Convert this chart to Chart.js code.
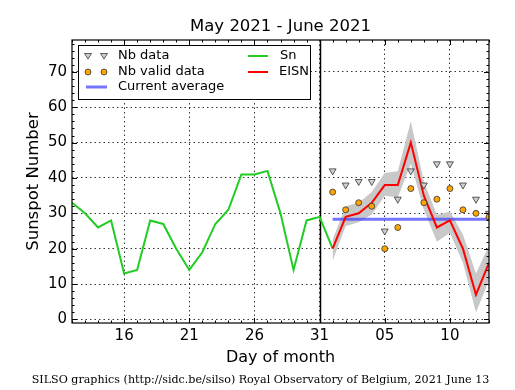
<!DOCTYPE html>
<html>
<head>
<meta charset="utf-8">
<script src="https://cdn.jsdelivr.net/npm/chart.js@4/dist/chart.umd.min.js"></script>
<style>
html, body { margin: 0; padding: 0; background: #fff; }
canvas { display: block; }
</style>
</head>
<body>
<canvas id="silso" width="515" height="390"></canvas>
<script>
// days are counted from May 1 (June 1 = 32)
var snDays = [12, 13, 14, 15, 16, 17, 18, 19, 20, 21, 22, 23, 24, 25, 26, 27, 28, 29, 30, 31, 32];
var snValues = [33, 30, 26, 28, 13, 14, 28, 27, 20, 14, 19, 27, 31, 41, 41, 42, 30, 14, 28, 29, 20];

var eisnDays = [32, 33, 34, 35, 36, 37, 38, 39, 40, 41, 42, 43, 44];
var eisnValues = [20, 29, 30, 33, 38, 38, 50, 35, 26, 28, 20, 7, 16];
var eisnLow = [16.5, 26.4, 27.5, 29.7, 35, 34.5, 44, 31, 22, 24.5, 16, 2, 11];
var eisnHigh = [22.6, 32, 33, 36, 41.4, 41.9, 56, 39, 29.5, 30.5, 24, 13, 21];
var nbData = [42, 38, 39, 39, 25, 34, 42, 38, 44, 44, 38, 34, 30];
var nbValid = [36, 31, 33, 32, 20, 26, 37, 33, 34, 37, 31, 30, 29];
var currentAverage = 28.3;

var xTicks = [16, 21, 26, 31, 36, 41];
var xTickLabels = ['16', '21', '26', '31', '05', '10'];
var yTicks = [0, 10, 20, 30, 40, 50, 60, 70];

function pts(days, vals) {
    return days.map(function(d, i) { return {x: d, y: vals[i]}; });
}

var decor = {
    id: 'decor',
    beforeDatasetsDraw: function(chart) {
        var c = chart.ctx, a = chart.chartArea, x = chart.scales.x;
        var px = Math.round(x.getPixelForValue(31)) + 0.5;
        c.save();
        c.strokeStyle = '#000';
        c.lineWidth = 1.5;
        c.beginPath();
        c.moveTo(px, a.top);
        c.lineTo(px, a.bottom);
        c.stroke();
        c.restore();
    },
    afterDraw: function(chart) {
        var c = chart.ctx, a = chart.chartArea, x = chart.scales.x, y = chart.scales.y;
        c.save();
        // frame
        c.strokeStyle = '#000';
        c.lineWidth = 1.2;
        c.strokeRect(a.left, a.top, a.right - a.left, a.bottom - a.top);
        // inward ticks on all four sides
        c.lineWidth = 1;
        c.beginPath();
        var d, len, p;
        for (d = 12; d <= 44; d++) {
            len = xTicks.indexOf(d) >= 0 ? 5 : 2.5;
            p = Math.round(x.getPixelForValue(d)) + 0.5;
            c.moveTo(p, a.bottom); c.lineTo(p, a.bottom - len);
            c.moveTo(p, a.top); c.lineTo(p, a.top + len);
        }
        for (d = 0; d <= 78; d += 2) {
            len = d % 10 === 0 ? 5 : 2.5;
            p = Math.round(y.getPixelForValue(d)) + 0.5;
            c.moveTo(a.left, p); c.lineTo(a.left + len, p);
            c.moveTo(a.right, p); c.lineTo(a.right - len, p);
        }
        c.stroke();

        // texts
        c.fillStyle = '#000';
        c.textAlign = 'center';
        c.textBaseline = 'alphabetic';
        c.font = '16.5px "DejaVu Sans"';
        c.fillText('May 2021 - June 2021', (a.left + a.right) / 2, 31);
        c.font = '16px "DejaVu Sans"';
        c.fillText('Day of month', (a.left + a.right) / 2, 362);
        c.save();
        c.translate(38, (a.top + a.bottom) / 2);
        c.rotate(-Math.PI / 2);
        c.font = '16.5px "DejaVu Sans"';
        c.fillText('Sunspot Number', 0, 0);
        c.restore();
        c.font = '11.1px "DejaVu Serif"';
        c.fillText('SILSO graphics (http://sidc.be/silso) Royal Observatory of Belgium, 2021 June 13', 260.5, 383);

        // legend
        c.fillStyle = '#fff';
        c.fillRect(78.5, 45.5, 232, 54);
        c.strokeStyle = '#000';
        c.lineWidth = 1;
        c.strokeRect(78.5, 45.5, 232, 54);
        var rows = [56, 72, 87];
        [88, 104].forEach(function(mx) {
            c.beginPath();
            c.moveTo(mx - 3.5, rows[0] - 2.5);
            c.lineTo(mx + 3.5, rows[0] - 2.5);
            c.lineTo(mx, rows[0] + 3);
            c.closePath();
            c.fillStyle = '#d0d0d0';
            c.fill();
            c.strokeStyle = '#333';
            c.lineWidth = 0.8;
            c.stroke();
            c.beginPath();
            c.arc(mx, rows[1], 3, 0, Math.PI * 2);
            c.fillStyle = '#ffa500';
            c.fill();
            c.strokeStyle = '#333';
            c.stroke();
        });
        c.lineWidth = 3;
        c.strokeStyle = 'rgba(70,70,255,0.75)';
        c.beginPath(); c.moveTo(86, rows[2]); c.lineTo(107, rows[2]); c.stroke();
        c.lineWidth = 2;
        c.strokeStyle = '#22cc22';
        c.beginPath(); c.moveTo(248, rows[0]); c.lineTo(268, rows[0]); c.stroke();
        c.strokeStyle = '#ff0000';
        c.beginPath(); c.moveTo(248, rows[1]); c.lineTo(268, rows[1]); c.stroke();
        c.fillStyle = '#000';
        c.font = '13px "DejaVu Sans"';
        c.textAlign = 'left';
        c.textBaseline = 'middle';
        c.fillText('Nb data', 118, rows[0]);
        c.fillText('Nb valid data', 118, rows[1]);
        c.fillText('Current average', 118, rows[2]);
        c.fillText('Sn', 280, rows[0]);
        c.fillText('EISN', 279, rows[1]);
        c.restore();
    }
};

var ctx = document.getElementById('silso').getContext('2d');
var chart = new Chart(ctx, {
    type: 'line',
    data: {
        datasets: [
            {
                label: 'EISN low', data: pts(eisnDays, eisnLow),
                borderWidth: 0, pointRadius: 0, fill: false, order: 16
            },
            {
                label: 'EISN high', data: pts(eisnDays, eisnHigh),
                borderWidth: 0, pointRadius: 0, fill: '-1',
                backgroundColor: '#c8c8c8', order: 15
            },
            {
                label: 'Current average',
                data: [{x: eisnDays[0], y: currentAverage}, {x: eisnDays[eisnDays.length - 1], y: currentAverage}],
                borderColor: 'rgba(70,70,255,0.75)', borderWidth: 3, pointRadius: 0, fill: false, order: 14
            },
            {
                label: 'Sn', data: pts(snDays, snValues),
                borderColor: '#22cc22', borderWidth: 2, pointRadius: 0, fill: false, order: 13
            },
            {
                label: 'EISN', data: pts(eisnDays, eisnValues),
                borderColor: '#ff0000', borderWidth: 2, pointRadius: 0, fill: false, order: 12
            },
            {
                label: 'Nb data', data: pts(eisnDays, nbData), showLine: false,
                pointStyle: 'triangle', rotation: 180, pointRadius: 4,
                pointBackgroundColor: '#d0d0d0', pointBorderColor: '#333', pointBorderWidth: 0.8, order: 11
            },
            {
                label: 'Nb valid data', data: pts(eisnDays, nbValid), showLine: false,
                pointStyle: 'circle', pointRadius: 3,
                pointBackgroundColor: '#ffa500', pointBorderColor: '#333', pointBorderWidth: 0.8, order: 10
            }
        ]
    },
    options: {
        responsive: false,
        animation: false,
        events: [],
        layout: {padding: {top: 40, right: 26, left: 0, bottom: 0}},
        plugins: {legend: {display: false}, tooltip: {enabled: false}},
        scales: {
            x: {
                type: 'linear', min: 12, max: 44,
                afterFit: function(s) { s.height = 67; },
                afterBuildTicks: function(s) { s.ticks = xTicks.map(function(v) { return {value: v}; }); },
                ticks: {
                    autoSkip: false, maxRotation: 0, padding: 4, color: '#000',
                    font: {family: 'DejaVu Sans', size: 15},
                    callback: function(v) { var i = xTicks.indexOf(v); return i < 0 ? '' : xTickLabels[i]; }
                },
                grid: {color: '#000', lineWidth: 0.8, drawTicks: false},
                border: {display: false, dash: [1.5, 3]}
            },
            y: {
                type: 'linear', min: -1, max: 79,
                afterFit: function(s) { s.width = 72; },
                afterBuildTicks: function(s) { s.ticks = yTicks.map(function(v) { return {value: v}; }); },
                ticks: {padding: 5, color: '#000', font: {family: 'DejaVu Sans', size: 15}},
                grid: {color: '#000', lineWidth: 0.8, drawTicks: false},
                border: {display: false, dash: [1.5, 3]}
            }
        }
    },
    plugins: [decor]
});
</script>
</body>
</html>
